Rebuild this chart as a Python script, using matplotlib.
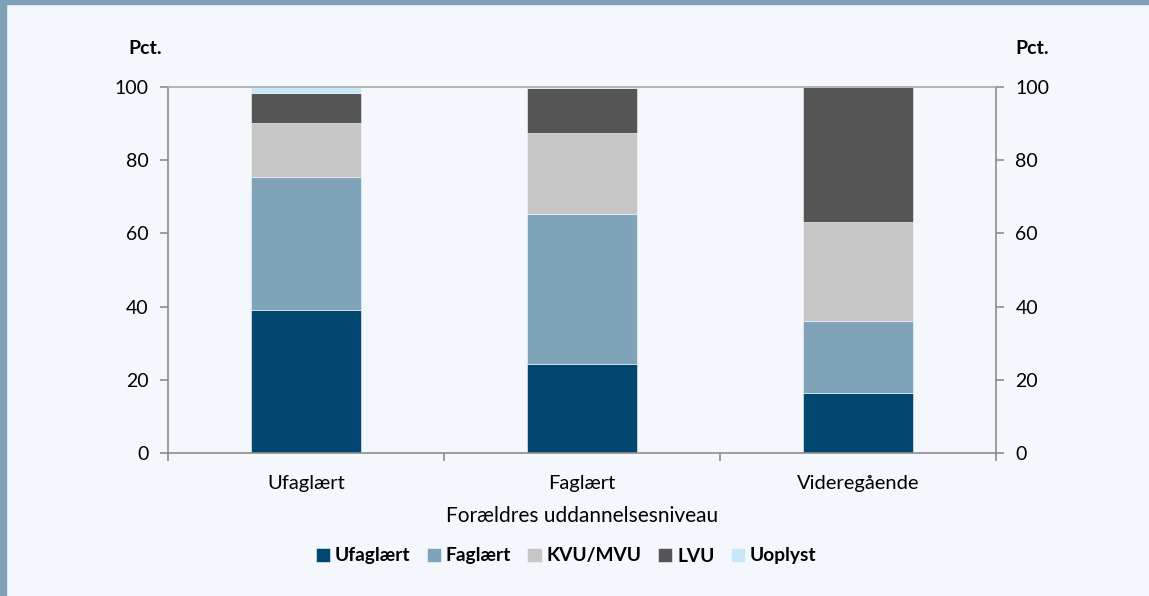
import matplotlib.pyplot as plt
import numpy as np
from matplotlib.patches import Rectangle

plt.rcParams['font.family'] = ['Lato', 'DejaVu Sans']

categories = ['Ufaglært', 'Faglært', 'Videregående']
series = ['Ufaglært', 'Faglært', 'KVU/MVU', 'LVU', 'Uoplyst']
ufaglaert = [39.1, 24.3, 16.4]
faglaert = [36.3, 41.0, 19.7]
kvu_mvu = [14.8, 22.1, 27.0]
lvu = [8.2, 12.2, 36.8]
uoplyst = [1.6, 0.4, 0.1]
values = [ufaglaert, faglaert, kvu_mvu, lvu, uoplyst]
colors = ['#00466e', '#7fa3b8', '#c6c6c6', '#555555', '#c8e8f8']
yticks = [0, 20, 40, 60, 80, 100]

bg = '#f4f8fd'
fig = plt.figure(figsize=(11.49, 5.96), dpi=100, facecolor=bg)
ax = fig.add_axes([168/1149, 1-453/596, 828/1149, 366/596], facecolor=bg)

x = np.arange(len(categories))
bottom = np.zeros(len(categories))
for name, vals, c in zip(series, values, colors):
    ax.bar(x, vals, width=0.40, bottom=bottom, color=c, label=name,
           edgecolor=bg, linewidth=0.4, zorder=2)
    bottom += np.array(vals)

ax.set_xlim(-0.5, len(categories) - 0.5)
ax.set_ylim(0, 100)
ax.set_yticks(yticks)
ax.set_xticks(x)
ax.set_xticklabels(categories, fontsize=14.5)
ax.set_xticks(np.arange(len(categories) + 1) - 0.5, minor=True)
ax.tick_params(axis='x', which='major', length=0, pad=16)
ax.tick_params(axis='x', which='minor', length=6, color='#8c8c8c', width=1.2)
ax.tick_params(axis='y', length=6, color='#8c8c8c', width=1.2, labelsize=14, pad=8)
for s in ax.spines.values():
    s.set_color('#8c8c8c')
    s.set_linewidth(1.2)
ax.spines['top'].set_color('#a8a8a8')

ax2 = ax.twinx()
ax2.set_ylim(0, 100)
ax2.set_yticks(yticks)
ax2.tick_params(axis='y', length=6, color='#8c8c8c', width=1.2, labelsize=14, pad=8)
for s in ax2.spines.values():
    s.set_visible(False)

ax.set_xlabel('Forældres uddannelsesniveau', fontsize=15, labelpad=10)

fig.text(145/1149, 1-48/596, 'Pct.', fontsize=14, fontweight='bold', ha='center', va='center')
fig.text(1032/1149, 1-48/596, 'Pct.', fontsize=14, fontweight='bold', ha='center', va='center')

leg = fig.legend(*ax.get_legend_handles_labels(), loc='center', bbox_to_anchor=(566/1149, 1-556/596),
                 ncol=5, frameon=False, handlelength=0.75, handleheight=0.75, handletextpad=0.25,
                 columnspacing=0.85, prop={'weight': 'bold', 'size': 13.8})

fig.patches.append(Rectangle((0, 1-4/596), 1, 4/596, transform=fig.transFigure, color='#7fa1b7', zorder=10))
fig.patches.append(Rectangle((0, 0), 6/1149, 1, transform=fig.transFigure, color='#7fa1b7', zorder=10))

fig.savefig('out.png', dpi=100, facecolor=bg)
